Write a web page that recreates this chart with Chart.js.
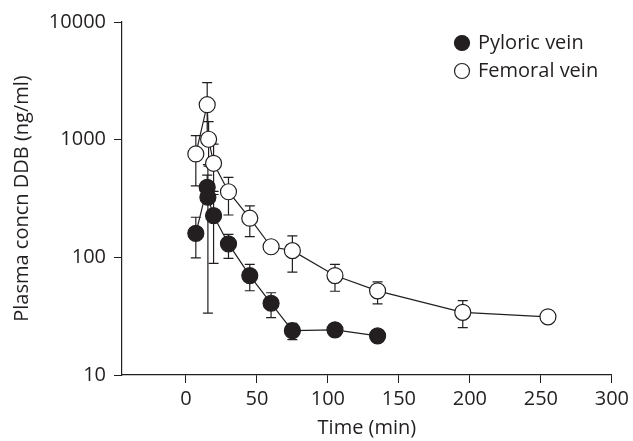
<!DOCTYPE html>
<html>
<head>
<meta charset="utf-8">
<script src="https://cdn.jsdelivr.net/npm/chart.js@4/dist/chart.umd.min.js"></script>
<style>
  html, body { margin: 0; padding: 0; background: #fff; }
  #chart { display: block; }
</style>
</head>
<body>
<canvas id="chart" width="633" height="441"></canvas>
<script>
// Data (time in min, concentration in ng/ml)
const pyloricTime = [7, 15, 15.5, 19.5, 30, 45, 60, 75, 105, 135];
const pyloricConc = [160, 394, 324, 226, 130, 70, 40.7, 23.8, 24.2, 21.5];
const pyloricHi   = [219, 500, 614, 363, 157, 87, 50, 27.5, null, null];
const pyloricLo   = [99, 290, 33.5, 89, 98, 52, 30.7, 20, null, null];

const femoralTime = [7, 15, 16, 19.5, 30, 45, 60, 75, 105, 135, 195, 255];
const femoralConc = [756, 1982, 1008, 630, 361, 215, 123, 114, 70, 51.9, 34.1, 31.2];
const femoralHi   = [1081, 3050, 1421, 918, 479, 274, null, 152, 87, 61.8, 42.9, null];
const femoralLo   = [405, 914, 595, 342, 229, 150, null, 75, 51.5, 40.2, 25.3, null];

const xTicks = [0, 50, 100, 150, 200, 250, 300];
const yTicks = [10, 100, 1000, 10000];

const ink = '#231f20';
const fontFamily = '"Open Sans", "Noto Sans", sans-serif';

function toPoints(xs, ys) {
  return xs.map((x, i) => ({ x: x, y: ys[i] }));
}

// error bars drawn under the markers
const errorBars = {
  id: 'errorBars',
  beforeDatasetsDraw(chart) {
    const ctx = chart.ctx;
    const xs = chart.scales.x;
    const ys = chart.scales.y;
    ctx.save();
    ctx.strokeStyle = ink;
    ctx.lineWidth = 1.2;
    chart.data.datasets.forEach(ds => {
      ds.data.forEach((p, i) => {
        const hi = ds.errHi[i];
        const lo = ds.errLo[i];
        if (hi == null || lo == null) return;
        const px = xs.getPixelForValue(p.x);
        const yHi = ys.getPixelForValue(hi);
        const yLo = ys.getPixelForValue(lo);
        ctx.beginPath();
        ctx.moveTo(px, yHi);
        ctx.lineTo(px, yLo);
        ctx.moveTo(px - 5, yHi);
        ctx.lineTo(px + 5, yHi);
        ctx.moveTo(px - 5, yLo);
        ctx.lineTo(px + 5, yLo);
        ctx.stroke();
      });
    });
    ctx.restore();
  }
};

// legend in the top right corner
const cornerLegend = {
  id: 'cornerLegend',
  afterDraw(chart) {
    const ctx = chart.ctx;
    ctx.save();
    ctx.font = '20px ' + fontFamily;
    ctx.textBaseline = 'middle';
    ctx.textAlign = 'left';
    chart.data.datasets.forEach((ds, i) => {
      const cy = 43 + i * 28;
      ctx.beginPath();
      ctx.arc(462, cy, 7.5, 0, Math.PI * 2);
      ctx.fillStyle = ds.pointBackgroundColor;
      ctx.fill();
      ctx.lineWidth = 1.2;
      ctx.strokeStyle = ink;
      ctx.stroke();
      ctx.fillStyle = ink;
      ctx.fillText(ds.label, 478, cy);
    });
    ctx.restore();
  }
};

const ctx = document.getElementById('chart');

new Chart(ctx, {
  type: 'scatter',
  data: {
    datasets: [
      {
        label: 'Pyloric vein',
        data: toPoints(pyloricTime, pyloricConc),
        errHi: pyloricHi,
        errLo: pyloricLo,
        showLine: true,
        borderColor: ink,
        borderWidth: 1.2,
        pointRadius: 8,
        pointBorderWidth: 1.2,
        pointBackgroundColor: ink,
        pointBorderColor: ink
      },
      {
        label: 'Femoral vein',
        data: toPoints(femoralTime, femoralConc),
        errHi: femoralHi,
        errLo: femoralLo,
        showLine: true,
        borderColor: ink,
        borderWidth: 1.2,
        pointRadius: 8,
        pointBorderWidth: 1.2,
        pointBackgroundColor: '#ffffff',
        pointBorderColor: ink
      }
    ]
  },
  options: {
    responsive: false,
    animation: false,
    devicePixelRatio: 1,
    layout: {
      padding: { top: 22, right: 21, bottom: 0, left: 0 }
    },
    plugins: {
      legend: { display: false },
      tooltip: { enabled: false }
    },
    scales: {
      x: {
        type: 'linear',
        min: -45,
        max: 300,
        afterBuildTicks: s => { s.ticks = xTicks.map(v => ({ value: v })); },
        afterFit: s => { s.height = 66; },
        grid: { drawOnChartArea: false, drawTicks: true, tickLength: 8, color: ink, lineWidth: 1 },
        border: { display: true, color: ink, width: 1.2 },
        ticks: {
          color: ink,
          padding: 4,
          maxRotation: 0,
          font: { family: fontFamily, size: 20 }
        },
        title: {
          display: true,
          text: 'Time (min)',
          color: ink,
          font: { family: fontFamily, size: 20, lineHeight: 1 },
          padding: { top: 0, bottom: 3 }
        }
      },
      y: {
        type: 'logarithmic',
        min: 10,
        max: 10000,
        afterBuildTicks: s => { s.ticks = yTicks.map(v => ({ value: v })); },
        afterFit: s => { s.width = 122; },
        grid: { drawOnChartArea: false, drawTicks: true, tickLength: 8, color: ink, lineWidth: 1 },
        border: { display: true, color: ink, width: 1.2 },
        ticks: {
          color: ink,
          padding: 8,
          font: { family: fontFamily, size: 20 },
          callback: v => String(v)
        },
        title: {
          display: true,
          text: 'Plasma concn DDB (ng/ml)',
          color: ink,
          font: { family: fontFamily, size: 20, lineHeight: 1 },
          padding: { top: 12, bottom: 0 }
        }
      }
    }
  },
  plugins: [errorBars, cornerLegend]
});
</script>
</body>
</html>
